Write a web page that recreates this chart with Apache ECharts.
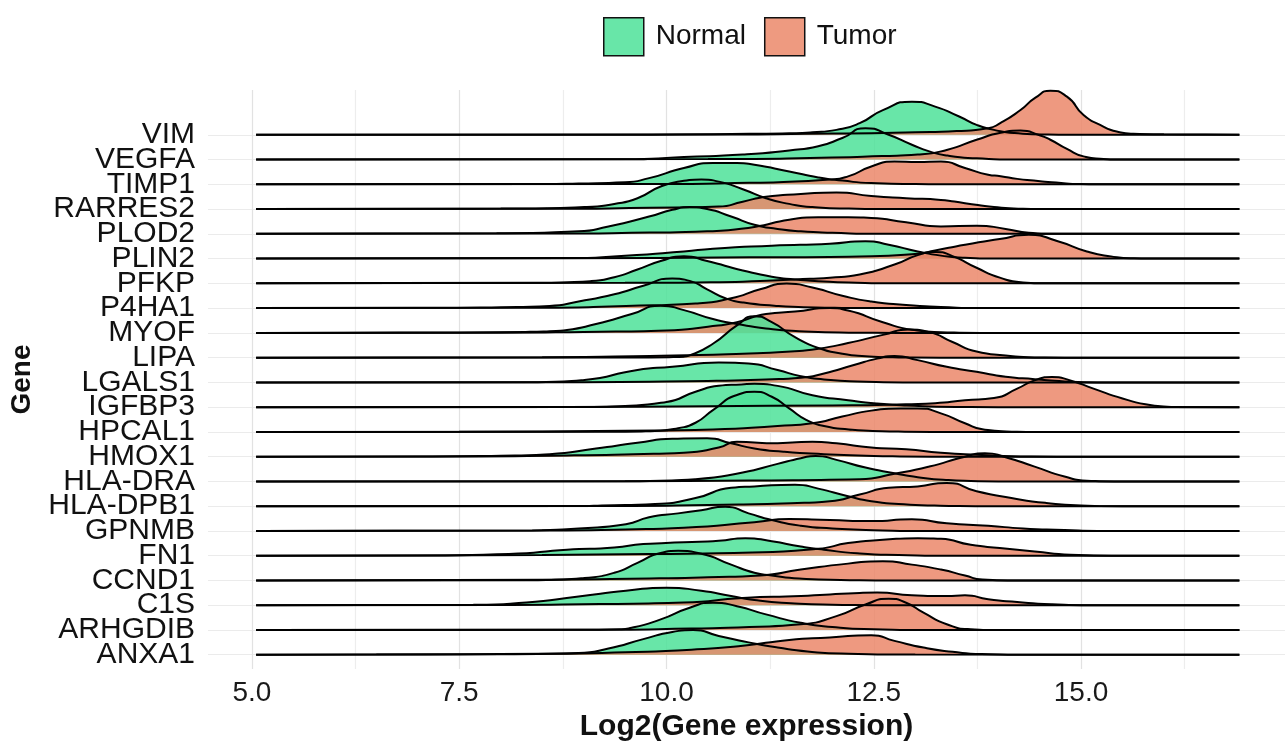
<!DOCTYPE html>
<html>
<head>
<meta charset="utf-8">
<title>Gene ridges</title>
<script src="https://cdn.jsdelivr.net/npm/echarts@6/dist/echarts.min.js"></script>
<style>
  html, body { margin: 0; padding: 0; background: #fff; }
  #chart { width: 1285px; height: 747px; }
</style>
</head>
<body>
<div id="chart"></div>
<script>
// genes from bottom row to top row
const genes = ['ANXA1', 'ARHGDIB', 'C1S', 'CCND1', 'FN1', 'GPNMB', 'HLA-DPB1', 'HLA-DRA', 'HMOX1', 'HPCAL1',
  'IGFBP3', 'LGALS1', 'LIPA', 'MYOF', 'P4HA1', 'PFKP', 'PLIN2', 'PLOD2', 'RARRES2', 'TIMP1', 'VEGFA', 'VIM']

const xLabels = [5, 7.5, 10, 12.5, 15]
const xGrid = [5, 6.25, 7.5, 8.75, 10, 11.25, 12.5, 13.75, 15, 16.25]

// density curves: [log2 expression, ridge height]
const normalDensity = [
  [[5.05,0],[6.2,0.005],[8.0,0.02],[8.94,0.07],[9.3,0.25],[9.72,0.63],[10.07,0.92],[10.32,1.0],[10.63,0.76],[10.99,0.5],[11.34,0.29],[11.7,0.13],[12.2,0.04],[13,0.01],[16.91,0]],
  [[5.05,0],[9.0,0.01],[9.44,0.03],[9.58,0.09],[9.93,0.43],[10.28,0.9],[10.56,1.1],[10.85,0.96],[11.2,0.63],[11.62,0.29],[12.0,0.12],[12.5,0.03],[13.2,0],[16.91,0]],
  [[5.05,0],[7.67,0.02],[8.31,0.11],[8.94,0.35],[9.51,0.58],[10.0,0.71],[10.42,0.58],[10.78,0.37],[11.06,0.21],[11.5,0.08],[12,0.02],[12.8,0],[16.91,0]],
  [[5.05,0],[8.3,0.01],[8.66,0.03],[9.01,0.1],[9.37,0.31],[9.65,0.71],[9.93,1.11],[10.14,1.2],[10.42,1.08],[10.78,0.64],[11.06,0.31],[11.27,0.2],[11.6,0.08],[12.1,0.02],[12.8,0],[16.91,0]],
  [[5.05,0],[7.04,0.01],[8.1,0.07],[8.8,0.24],[9.37,0.33],[9.72,0.47],[10.21,0.54],[10.63,0.6],[10.95,0.71],[11.27,0.58],[11.62,0.37],[11.9,0.24],[12.3,0.1],[12.8,0.03],[13.5,0],[16.91,0]],
  [[5.05,0],[8.38,0.02],[8.94,0.1],[9.51,0.27],[9.79,0.55],[10.14,0.71],[10.42,0.84],[10.71,0.98],[10.99,0.71],[11.27,0.44],[11.62,0.21],[12.0,0.1],[12.5,0.03],[13.2,0],[16.91,0]],
  [[5.05,0],[9.0,0.01],[9.22,0.03],[9.86,0.09],[10.35,0.33],[10.78,0.74],[11.06,0.8],[11.55,0.87],[11.83,0.71],[12.19,0.4],[12.47,0.2],[12.8,0.09],[13.3,0.02],[14,0],[16.91,0]],
  [[5.05,0],[9.5,0.01],[9.93,0.03],[10.35,0.09],[10.92,0.36],[11.34,0.71],[11.62,0.94],[11.8,1.03],[12.05,0.87],[12.4,0.56],[12.75,0.33],[13.03,0.17],[13.4,0.06],[14,0],[16.91,0]],
  [[5.05,0],[6.97,0.01],[8.0,0.04],[8.59,0.1],[9.15,0.33],[9.65,0.56],[10.07,0.72],[10.49,0.74],[10.78,0.54],[11.06,0.33],[11.41,0.2],[11.9,0.1],[12.5,0.03],[13.2,0],[16.91,0]],
  [[5.05,0],[9.5,0.01],[9.86,0.04],[10.14,0.15],[10.35,0.37],[10.56,0.88],[10.85,1.49],[11.06,1.62],[11.27,1.42],[11.48,0.95],[11.69,0.48],[11.9,0.24],[12.2,0.1],[12.6,0.03],[13.2,0],[16.91,0]],
  [[5.05,0],[9.0,0.01],[9.5,0.05],[10.0,0.21],[10.35,0.62],[10.63,0.86],[10.9,0.92],[11.06,0.95],[11.34,0.86],[11.76,0.48],[12.19,0.28],[12.54,0.15],[12.9,0.07],[13.5,0.01],[14,0],[16.91,0]],
  [[5.05,0],[8.3,0.01],[8.66,0.03],[9.01,0.1],[9.65,0.5],[10.07,0.63],[10.63,0.8],[10.99,0.76],[11.34,0.5],[11.62,0.25],[11.9,0.12],[12.3,0.04],[13,0],[16.91,0]],
  [[5.05,0],[9.8,0.01],[10.21,0.04],[10.28,0.09],[10.56,0.56],[10.85,1.3],[11.06,1.67],[11.27,1.43],[11.55,0.83],[11.83,0.39],[12.12,0.16],[12.4,0.06],[12.8,0.01],[13.3,0],[16.91,0]],
  [[5.05,0],[6.1,0.01],[7.5,0.02],[8.3,0.04],[8.59,0.07],[8.8,0.12],[9.15,0.36],[9.58,0.76],[9.93,1.1],[10.21,0.92],[10.56,0.56],[10.85,0.36],[11.2,0.18],[11.6,0.07],[12.2,0.01],[12.8,0],[16.91,0]],
  [[5.05,0],[6.97,0.01],[8.0,0.04],[8.59,0.09],[8.94,0.27],[9.37,0.56],[9.72,0.9],[10.07,1.2],[10.28,1.1],[10.49,0.76],[10.71,0.4],[10.92,0.23],[11.3,0.1],[11.8,0.03],[12.5,0],[16.91,0]],
  [[5.05,0],[8.45,0.02],[9.08,0.09],[9.37,0.25],[9.65,0.56],[9.93,0.9],[10.21,1.1],[10.49,0.9],[10.92,0.52],[11.27,0.27],[11.55,0.16],[11.83,0.09],[12.2,0.03],[12.8,0],[16.91,0]],
  [[5.05,0],[8.8,0.02],[9.5,0.12],[10.21,0.29],[10.56,0.4],[11.27,0.52],[11.97,0.6],[12.4,0.7],[12.68,0.56],[13.03,0.29],[13.31,0.12],[13.6,0.03],[14,0],[16.91,0]],
  [[5.05,0],[7.95,0.02],[8.94,0.1],[9.3,0.3],[9.79,0.7],[10.07,0.97],[10.28,1.08],[10.49,1.0],[10.78,0.7],[11.06,0.37],[11.34,0.2],[11.62,0.1],[12.0,0.04],[12.6,0],[16.91,0]],
  [[5.05,0],[7.4,0.01],[8.0,0.02],[9.01,0.08],[9.37,0.21],[9.65,0.44],[9.93,0.91],[10.21,1.14],[10.42,1.2],[10.63,1.11],[10.92,0.8],[11.2,0.44],[11.48,0.21],[11.76,0.08],[12.2,0.02],[12.8,0],[16.91,0]],
  [[5.05,0],[8.5,0.01],[8.94,0.03],[9.5,0.08],[9.79,0.25],[10.21,0.66],[10.56,0.86],[10.85,0.86],[11.06,0.79],[11.48,0.52],[11.83,0.28],[12.12,0.15],[12.47,0.05],[13.0,0.01],[13.5,0],[16.91,0]],
  [[5.05,0],[9.5,0.01],[10.21,0.1],[10.92,0.2],[11.48,0.37],[11.83,0.54],[12.12,0.87],[12.4,1.27],[12.68,1.0],[12.96,0.6],[13.17,0.33],[13.39,0.16],[13.74,0.05],[14.2,0],[16.91,0]],
  [[5.05,0],[9.5,0],[10.14,0.01],[11.0,0.04],[11.48,0.06],[11.76,0.1],[12.05,0.2],[12.33,0.47],[12.61,1.0],[12.96,1.34],[13.24,1.14],[13.53,0.74],[13.74,0.4],[13.95,0.2],[14.2,0.07],[14.6,0.01],[15,0],[16.91,0]]
]

const tumorDensity = [
  [[5.05,0],[6.5,0.01],[8.5,0.04],[9.5,0.1],[10.3,0.2],[10.92,0.36],[11.48,0.6],[11.97,0.7],[12.47,0.79],[12.75,0.56],[13.1,0.29],[13.45,0.12],[13.8,0.03],[14.5,0],[16.91,0]],
  [[5.05,0],[9.3,0.01],[10.3,0.06],[11.0,0.12],[11.62,0.23],[12.05,0.56],[12.4,1.03],[12.68,1.26],[12.89,1.1],[13.1,0.7],[13.38,0.23],[13.67,0.03],[14,0],[16.91,0]],
  [[5.05,0],[8.0,0.01],[9.2,0.05],[10.21,0.11],[10.92,0.29],[11.62,0.37],[12.19,0.47],[12.54,0.51],[12.96,0.4],[13.38,0.37],[13.6,0.4],[13.88,0.24],[14.23,0.13],[14.65,0.04],[15.1,0],[16.91,0]],
  [[5.05,0],[6.3,0.01],[8.5,0.03],[9.8,0.08],[10.5,0.13],[11.13,0.2],[11.62,0.44],[12.19,0.68],[12.61,0.78],[12.96,0.64],[13.31,0.44],[13.6,0.2],[13.81,0.04],[14.2,0],[16.91,0]],
  [[5.05,0],[7.0,0.01],[8.5,0.03],[9.8,0.07],[10.92,0.12],[11.83,0.28],[12.19,0.51],[12.61,0.64],[13.03,0.71],[13.31,0.68],[13.67,0.44],[14.02,0.31],[14.44,0.17],[14.87,0.04],[15.5,0],[16.91,0]],
  [[5.05,0],[8.5,0.02],[9.5,0.06],[10.21,0.13],[11.06,0.35],[11.48,0.48],[11.97,0.44],[12.47,0.4],[12.96,0.47],[13.38,0.31],[13.88,0.21],[14.3,0.1],[14.8,0.04],[15.2,0],[16.91,0]],
  [[5.05,0],[9.5,0.01],[10.5,0.05],[11.5,0.12],[11.97,0.2],[12.33,0.47],[12.68,0.74],[13.03,0.8],[13.38,0.94],[13.74,0.6],[14.16,0.33],[14.58,0.13],[15.0,0.03],[15.5,0],[16.91,0]],
  [[5.05,0],[9.5,0.01],[11,0.04],[12.33,0.09],[12.75,0.31],[13.17,0.6],[13.6,1.0],[13.84,1.14],[14.09,0.98],[14.44,0.6],[14.8,0.2],[15.07,0.03],[15.4,0],[16.91,0]],
  [[5.05,0],[7.5,0.01],[8.8,0.05],[9.6,0.1],[10.21,0.16],[10.63,0.37],[10.85,0.6],[11.27,0.54],[11.76,0.6],[12.05,0.54],[12.47,0.37],[12.89,0.3],[13.31,0.16],[13.74,0.08],[14.4,0.01],[15,0],[16.91,0]],
  [[5.05,0],[7.5,0.01],[9.5,0.05],[10.56,0.1],[11.34,0.24],[11.76,0.35],[12.12,0.62],[12.47,0.86],[12.82,0.95],[13.03,0.95],[13.31,0.75],[13.6,0.35],[13.81,0.11],[14.1,0.02],[14.5,0],[16.91,0]],
  [[5.05,0],[8.8,0.01],[10.5,0.04],[12.0,0.07],[12.68,0.1],[13.24,0.16],[13.6,0.28],[13.95,0.37],[14.23,0.75],[14.44,1.08],[14.65,1.22],[14.87,1.08],[15.15,0.75],[15.5,0.35],[15.85,0.08],[16.1,0.01],[16.91,0]],
  [[5.05,0],[9.0,0.01],[10.5,0.06],[11.2,0.12],[11.62,0.19],[11.9,0.36],[12.26,0.7],[12.54,0.96],[12.75,1.07],[13.03,0.9],[13.38,0.63],[13.74,0.43],[14.09,0.23],[14.44,0.13],[14.8,0.04],[15.3,0],[16.91,0]],
  [[5.05,0],[8.5,0.02],[9.8,0.07],[10.92,0.16],[11.5,0.25],[11.83,0.36],[12.19,0.59],[12.61,0.92],[12.93,1.14],[13.17,1.03],[13.45,0.63],[13.74,0.25],[14.09,0.09],[14.44,0.01],[14.8,0],[16.91,0]],
  [[5.05,0],[8.0,0.01],[9.0,0.04],[10.0,0.1],[10.5,0.25],[10.85,0.43],[11.2,0.76],[11.55,0.86],[11.97,1.0],[12.19,0.9],[12.61,0.43],[12.96,0.13],[13.31,0.03],[13.8,0],[16.91,0]],
  [[5.05,0],[8.5,0.02],[9.51,0.09],[10.35,0.19],[10.78,0.4],[11.13,0.76],[11.45,0.99],[11.76,0.83],[12.12,0.5],[12.47,0.27],[12.89,0.13],[13.31,0.05],[13.8,0],[16.91,0]],
  [[5.05,0],[9.5,0.02],[10.92,0.07],[11.55,0.16],[11.97,0.23],[12.33,0.36],[12.75,0.76],[13.03,1.14],[13.24,1.27],[13.45,1.1],[13.74,0.63],[14.02,0.23],[14.3,0.04],[14.6,0],[16.91,0]],
  [[5.05,0],[8.8,0.01],[11,0.05],[12.33,0.09],[13.03,0.2],[13.24,0.33],[13.6,0.56],[14.02,0.79],[14.37,0.96],[14.72,0.7],[15.07,0.29],[15.36,0.09],[15.64,0.01],[15.9,0],[16.91,0]],
  [[5.05,0],[8.5,0.01],[9.8,0.05],[10.49,0.1],[11.06,0.28],[11.48,0.57],[11.83,0.67],[12.19,0.67],[12.47,0.64],[12.89,0.47],[13.31,0.3],[13.74,0.33],[14.09,0.2],[14.37,0.04],[14.7,0],[16.91,0]],
  [[5.05,0],[8.5,0.01],[9.8,0.05],[10.63,0.1],[10.92,0.3],[11.2,0.5],[11.62,0.61],[12.05,0.67],[12.47,0.53],[12.89,0.44],[13.31,0.37],[13.6,0.24],[13.95,0.08],[14.3,0.01],[14.6,0],[16.91,0]],
  [[5.05,0],[9.8,0.01],[11.0,0.06],[11.97,0.19],[12.19,0.32],[12.47,0.72],[12.75,0.92],[13.03,0.9],[13.31,0.92],[13.6,0.66],[13.88,0.39],[14.03,0.33],[14.23,0.22],[14.43,0.15],[14.7,0.07],[15.0,0.01],[15.3,0],[16.91,0]],
  [[5.05,0],[10.5,0.02],[12.0,0.08],[12.6,0.14],[13.03,0.2],[13.39,0.4],[13.74,0.8],[14.03,1.08],[14.27,1.17],[14.5,0.98],[14.63,0.8],[14.83,0.43],[15.03,0.13],[15.23,0.03],[15.5,0],[16.91,0]],
  [[5.05,0],[10.1,0.01],[12.0,0.05],[13.0,0.1],[13.5,0.15],[13.88,0.27],[14.03,0.48],[14.27,1.0],[14.45,1.5],[14.63,1.78],[14.83,1.54],[15.03,0.8],[15.23,0.4],[15.43,0.13],[15.63,0.04],[16.0,0.02],[16.5,0.01],[16.91,0]]
]

const FONT = "'Liberation Sans', Arial, sans-serif"
const normalFill = 'rgba(78, 226, 153, 0.85)'
const tumorFill = 'rgba(235, 135, 106, 0.85)'

const rows = genes.map((g, i) => i)
const evenRows = rows.filter(i => i % 2 === 0)
const oddRows = rows.filter(i => i % 2 === 1)

function ridge(name, curve, offset, fill) {
  return {
    name: name,
    type: 'line',
    yAxisIndex: 0,
    data: curve.map(p => [p[0], p[1] + offset]),
    smooth: 0.6,
    symbol: 'none',
    silent: true,
    lineStyle: { color: '#000', width: 2 },
    itemStyle: { color: fill },
    areaStyle: { color: fill, opacity: 1, origin: offset }
  }
}

// top rows first so lower ridges are painted over them
let series = []
for (let i = genes.length - 1; i >= 0; i--) {
  series.push(ridge('Normal', normalDensity[i], i, normalFill))
  series.push(ridge('Tumor', tumorDensity[i], i, tumorFill))
}

// gene labels are split over two stacked axes so echarts does not drop neighbours
function geneLabels(values) {
  return {
    customValues: values,
    formatter: v => genes[Math.round(v)],
    showMinLabel: true,
    showMaxLabel: true,
    fontSize: 30,
    color: '#111',
    margin: 13,
    fontFamily: FONT
  }
}

const chart = echarts.init(document.getElementById('chart'))
chart.setOption({
  animation: false,
  backgroundColor: '#fff',
  textStyle: { fontFamily: FONT },
  legend: {
    top: 12,
    left: 598,
    itemWidth: 40,
    itemHeight: 38,
    itemGap: 18,
    selectedMode: false,
    textStyle: { fontSize: 28, color: '#111', fontFamily: FONT, padding: [0, 0, 0, 7] },
    data: [
      { name: 'Normal', icon: 'rect', itemStyle: { color: '#68e6a8', borderColor: '#111', borderWidth: 1.5 } },
      { name: 'Tumor', icon: 'rect', itemStyle: { color: '#ee9a80', borderColor: '#111', borderWidth: 1.5 } }
    ]
  },
  grid: { left: 205, right: 0, top: 90, bottom: 75.3 },
  xAxis: {
    type: 'value',
    min: 4.47,
    max: 17.46,
    name: 'Log2(Gene expression)',
    nameLocation: 'middle',
    nameGap: 40,
    nameTextStyle: { fontSize: 30, fontWeight: 'bold', color: '#111', fontFamily: FONT },
    axisLine: { show: false },
    axisTick: { show: false, customValues: xGrid },
    axisLabel: {
      customValues: xLabels,
      formatter: v => v.toFixed(1),
      fontSize: 28,
      color: '#1a1a1a',
      margin: 10,
      fontFamily: FONT
    },
    splitLine: { show: true, lineStyle: { color: ['#e2e2e2', '#ededed'], width: 1.2 } }
  },
  yAxis: [
    {
      type: 'value',
      position: 'left',
      min: -0.58,
      max: 22.81,
      name: 'Gene',
      nameLocation: 'middle',
      nameRotate: 90,
      nameGap: 172,
      nameTextStyle: { fontSize: 28, fontWeight: 'bold', color: '#111', fontFamily: FONT },
      axisLine: { show: false },
      axisTick: { show: false, customValues: rows },
      axisLabel: geneLabels(evenRows),
      splitLine: { show: true, lineStyle: { color: '#ebebeb', width: 1.2 } }
    },
    {
      type: 'value',
      position: 'left',
      offset: 0,
      min: -0.58,
      max: 22.81,
      axisLine: { show: false },
      axisTick: { show: false },
      axisLabel: geneLabels(oddRows),
      splitLine: { show: false }
    }
  ],
  series: series
})
</script>
</body>
</html>
